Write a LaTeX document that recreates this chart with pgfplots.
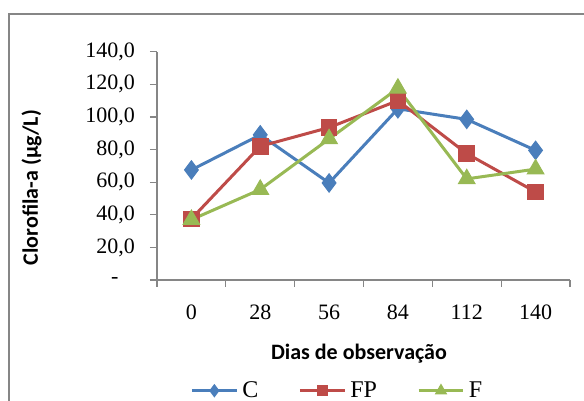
\documentclass[border=0pt]{standalone}
\usepackage{pgfplots}
\pgfplotsset{compat=1.18}
\usepackage{fontspec}
\setmainfont{Liberation Serif}
\newfontfamily\carlito{Carlito}
\definecolor{cC}{HTML}{4A7EBB}
\definecolor{cFP}{HTML}{BE4B48}
\definecolor{cF}{HTML}{98B954}
\definecolor{axgray}{HTML}{868686}
\begin{document}
\begin{tikzpicture}
\useasboundingbox (0,0) rectangle (292pt,200.5pt);
\draw[axgray, line width=1pt] (4.5pt,-20pt) -- (4.5pt,193.5pt) -- (320pt,193.5pt);
\begin{axis}[
  at={(78.5pt,60.5pt)}, anchor=south west,
  scale only axis, width=206.5pt, height=114.15pt,
  xmin=-0.5, xmax=5.5, ymin=0, ymax=140,
  axis x line*=bottom, axis y line*=left,
  axis line style={axgray, line width=0.6pt, -},
  every tick/.style={axgray, line width=0.6pt},
  tick align=outside,
  major tick length=3.5pt, minor tick length=3.5pt,
  xtick={0,...,5}, xticklabels={0,28,56,84,112,140},
  major x tick style={draw=none},
  minor xtick={-0.5,0.5,...,5.5},
  ytick={0,20,...,140},
  yticklabels={{-\hphantom{,0}},{20,0},{40,0},{60,0},{80,0},{100,0},{120,0},{140,0}},
  ticklabel style={font=\fontsize{11}{13}\selectfont},
  xticklabel style={yshift=-5.5pt},
  yticklabel style={xshift=-4pt},
  xlabel={Dias de observação},
  xlabel style={at={(axis description cs:0.489,-0.324)}, anchor=center, font=\fontsize{11}{13}\carlito\bfseries},
  ylabel={Clorofila-a (µg/L)},
  ylabel style={at={(axis description cs:-0.3034,0.405)}, anchor=center, font=\fontsize{11}{13}\carlito\bfseries},
  legend columns=3,
  legend style={at={(axis description cs:0.0799,-0.485)}, anchor=west, draw=none, fill=none, inner sep=0pt,
    font=\fontsize{12}{14}\selectfont,
    /tikz/every even column/.append style={column sep=18pt},
    nodes={inner xsep=2pt, inner ysep=0pt}},
  legend image code/.code={\draw[mark repeat=2, mark phase=2, #1, /tikz/every mark/.append style={scale=0.65}] plot coordinates {(0cm,0cm) (0.395cm,0cm) (0.79cm,0cm)};},
  clip=false,
]
\addplot[cC, line width=1.5pt, mark=diamond*, mark size=4.6pt, mark options={fill=cC, draw=cC, line width=0.5pt, solid}]
  coordinates {(0,67.5) (1,89) (2,59.5) (3,105) (4,98.5) (5,79.5)};
\addlegendentry{C}
\addplot[cFP, line width=1.5pt, mark=square*, mark size=3.9pt, mark options={fill=cFP, draw=cFP, line width=0.5pt, solid}]
  coordinates {(0,37.5) (1,82) (2,93.5) (3,110) (4,77.5) (5,54)};
\addlegendentry{FP}
\addplot[cF, line width=1.5pt, mark=triangle*, mark size=4.8pt, mark options={fill=cF, draw=cF, line width=0.5pt, solid}]
  coordinates {(0,37) (1,55.5) (2,86.5) (3,117.5) (4,62) (5,68)};
\addlegendentry{F}
\end{axis}
\end{tikzpicture}
\end{document}
